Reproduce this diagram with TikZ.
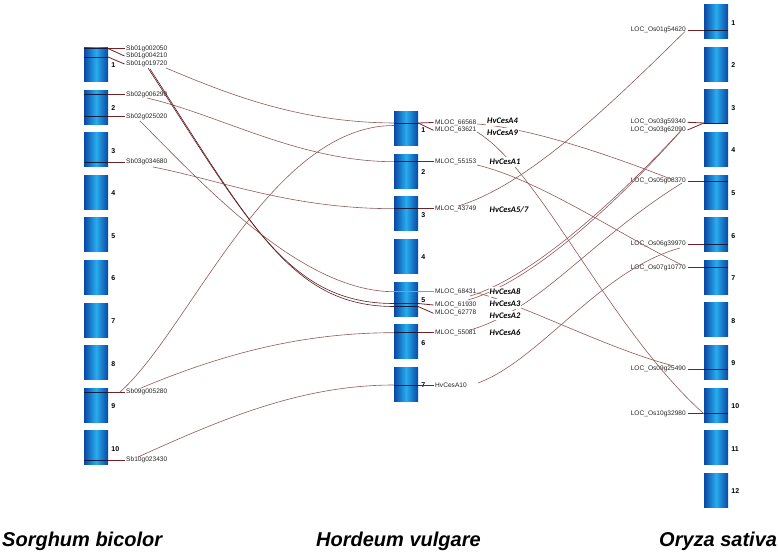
\documentclass[tikz,border=0pt]{standalone}
\usepackage{fontspec}
\setmainfont{Liberation Sans}
\newfontfamily\carlito{Carlito}
\definecolor{chromdark}{RGB}{10,72,165}
\definecolor{chromlight}{RGB}{40,172,238}
\definecolor{linkc}{RGB}{145,90,90}
\definecolor{dlinkc}{RGB}{95,30,35}
\definecolor{tickc}{RGB}{115,35,40}
\definecolor{bandc}{RGB}{20,30,60}
\begin{document}
\begin{tikzpicture}[x=1pt,y=-1pt,
  chrom/.style={minimum width=24pt,minimum height=34pt,inner sep=0pt,left color=chromdark,right color=chromdark,middle color=chromlight},
  chrnum/.style={font=\fontsize{7}{8}\selectfont\bfseries,anchor=west,inner sep=0pt,xshift=3pt,yshift=-1pt},
  gene/.style={font=\fontsize{6.6}{7}\selectfont,text=black!85,inner ysep=0pt,inner xsep=1.5pt},
  hv/.style={font=\carlito\fontsize{8.5}{9}\selectfont\bfseries\itshape,fill=white,inner xsep=1pt,inner ysep=2pt,anchor=west},
  species/.style={font=\fontsize{20}{24}\selectfont\bfseries\itshape,anchor=base west,inner sep=0pt},
  band/.style={draw=bandc,line width=0.7pt},
  tick/.style={draw=tickc,line width=0.8pt},
  link/.style={draw=linkc,line width=0.6pt},
  dlink/.style={draw=dlinkc,line width=0.6pt}]
\fill[white] (0,0) rectangle (778,553);
\useasboundingbox (0,0) rectangle (778,553);
% chromosomes
\foreach \i in {1,...,10}{\node[chrom] (S\i) at (96,{47.5+42.6*(\i-1)+17}) {}; \node[chrnum] (SN\i) at (S\i.east) {\i};}
\foreach \i in {1,...,7}{\node[chrom] (H\i) at (406,{111.7+42.6*(\i-1)+17}) {}; \node[chrnum] (HN\i) at (H\i.east) {\i};}
\foreach \i in {1,...,12}{\node[chrom] (O\i) at (716,{4.7+42.6*(\i-1)+17}) {}; \node[chrnum] (ON\i) at (O\i.east) {\i};}
% Sorghum genes
\node[gene,anchor=west] (sb1) at (124.5,48.5) {Sb01g002050};
\node[gene,anchor=west] (sb2) at (124.5,56) {Sb01g004210};
\node[gene,anchor=west] (sb3) at (124.5,64) {Sb01g019720};
\node[gene,anchor=west] (sb4) at (124.5,94.3) {Sb02g006290};
\node[gene,anchor=west] (sb5) at (124.5,116.5) {Sb02g025020};
\node[gene,anchor=west] (sb6) at (124.5,162) {Sb03g034680};
\node[gene,anchor=west] (sb7) at (124.5,392) {Sb09g005280};
\node[gene,anchor=west] (sb8) at (124.5,460) {Sb10g023430};
\coordinate (sbA) at (108,48.5);
\coordinate (sbB) at (108,57);
\draw[band] (S1.west |- sbA) -- (sbA);
\draw[band] (S1.west |- sbB) -- (sbB);
\draw[tick] (sbA) -- (sb1.west);
\draw[tick] (sbA) -- (sb2.west);
\draw[tick] (sbB) -- (sb3.west);
\foreach \c/\g in {S2/sb4,S2/sb5,S3/sb6,S9/sb7,S10/sb8}{
  \draw[band] (\c.west |- \g.west) -- (\c.east |- \g.west);
  \draw[tick] (\c.east |- \g.west) -- (\g.west);}
% Hordeum genes
\node[gene,anchor=west] (hm1) at (433.5,122.5) {MLOC\_66568};
\node[gene,anchor=west] (hm2) at (433.5,130.3) {MLOC\_63621};
\node[gene,anchor=west] (hm3) at (433.5,161.7) {MLOC\_55153};
\node[gene,anchor=west] (hm4) at (433.5,208.7) {MLOC\_43749};
\node[gene,anchor=west] (hm5) at (433.5,291.7) {MLOC\_68431};
\node[gene,anchor=west] (hm6) at (433.5,305) {MLOC\_61930};
\node[gene,anchor=west] (hm7) at (433.5,313.3) {MLOC\_62778};
\node[gene,anchor=west] (hm8) at (433.5,332.7) {MLOC\_55081};
\node[gene,anchor=west] (hm9) at (433.5,385) {HvCesA10};
\coordinate (hA) at (418,123);
\coordinate (hB) at (418,303.5);
\coordinate (hC) at (418,306.5);
\draw[band] (H1.west |- hA) -- (hA);
\draw[band] (H5.west |- hB) -- (hB);
\draw[band] (H5.west |- hC) -- (hC);
\draw[tick] (hA) -- (hm1.west);
\draw[tick] (hA) -- (hm2.west);
\draw[tick] (hB) -- (hm6.west);
\draw[tick] (hC) -- (hm7.west);
\draw[draw=linkc!70,line width=0.6pt] (H5.west |- hm5.west) -- (hm5.west);
\foreach \c/\g in {H2/hm3,H3/hm4,H6/hm8,H7/hm9}{
  \draw[band] (\c.west |- \g.west) -- (\c.east |- \g.west);
  \draw[tick] (\c.east |- \g.west) -- (\g.west);}
% Oryza genes
\node[gene,anchor=east] (ro1) at (687.5,30) {LOC\_Os01g54620};
\node[gene,anchor=east] (ro2) at (687.5,122.3) {LOC\_Os03g59340};
\node[gene,anchor=east] (ro3) at (687.5,130) {LOC\_Os03g62090};
\node[gene,anchor=east] (ro4) at (687.5,181) {LOC\_Os05g08370};
\node[gene,anchor=east] (ro5) at (687.5,244) {LOC\_Os06g39970};
\node[gene,anchor=east] (ro6) at (687.5,267.7) {LOC\_Os07g10770};
\node[gene,anchor=east] (ro7) at (687.5,369) {LOC\_Os09g25490};
\node[gene,anchor=east] (ro8) at (687.5,413.7) {LOC\_Os10g32980};
\coordinate (oA) at (704,123);
\draw[band] (oA) -- (O3.east |- oA);
\draw[tick] (ro2.east) -- (oA);
\draw[tick] (ro3.east) -- (oA);
\foreach \c/\g in {O1/ro1,O5/ro4,O6/ro5,O7/ro6,O9/ro7,O10/ro8}{
  \draw[band] (\c.west |- \g.east) -- (\c.east |- \g.east);
  \draw[tick] (\g.east) -- (\c.west |- \g.east);}
% link end points
\coordinate (l1s) at (166,68);
\coordinate (l2s) at (120,392);
\coordinate (l3s) at (141,388);
\coordinate (l4s) at (138,457);
\coordinate (l5s) at (147,98);
\coordinate (l6s) at (153,167);
\coordinate (l7s) at (140,121);
\coordinate (l8s) at (148,68);
\coordinate (l9s) at (150,69);
\coordinate (h1b) at (394,125.5);
\coordinate (h5b) at (394,306.5);
% Sorghum -> Hordeum links
\draw[link] (l1s) .. controls (230,95) and (300,122.5) .. (H1.west |- hA);
\draw[link] (l2s) .. controls (190,330) and (270,125.5) .. (h1b);
\draw[link] (l3s) .. controls (220,355) and (300,332.7) .. (H6.west |- hm8.west);
\draw[link] (l4s) .. controls (220,420) and (300,385) .. (H7.west |- hm9.west);
\draw[link] (l5s) .. controls (220,115) and (300,161.7) .. (H2.west |- hm3.west);
\draw[link] (l6s) .. controls (220,180) and (290,208.7) .. (H3.west |- hm4.west);
\draw[link] (l7s) .. controls (200,181) and (300,291.7) .. (H5.west |- hm5.west);
\draw[dlink] (l8s) .. controls (250,225) and (290,303.5) .. (H5.west |- hB);
\draw[dlink] (l9s) .. controls (252,227) and (292,306.5) .. (h5b);
% Hordeum -> Oryza links
\coordinate (m1s) at (458,206);
\coordinate (m2s) at (477,165);
\coordinate (m3s) at (477,132);
\coordinate (m4s) at (477,124);
\coordinate (m5s) at (478,383);
\coordinate (m6s) at (468,300);
\coordinate (m7s) at (470,296);
\coordinate (m8s) at (470,330);
\coordinate (m9s) at (477,293);
\coordinate (r1e) at (685,31.5);
\coordinate (r2e) at (680,132);
\coordinate (r3e) at (682,129.5);
\coordinate (r4e) at (672,179.5);
\coordinate (r4f) at (682,183);
\coordinate (r5e) at (680,248);
\coordinate (r6e) at (682,265);
\coordinate (r7e) at (674,366);
\draw[link] (m1s) .. controls (530,185) and (620,95) .. (r1e);
\draw[link] (m2s) .. controls (540,180) and (620,235) .. (r6e);
\draw[link] (m3s) .. controls (540,170) and (610,330) .. (O10.west |- ro8.east);
\draw[link] (m4s) .. controls (530,128) and (610,155) .. (r4e);
\draw[link] (m5s) .. controls (540,360) and (600,270) .. (r5e);
\draw[link] (m6s) .. controls (530,282) and (610,210) .. (r2e);
\draw[link] (m7s) .. controls (530,278) and (612,205) .. (r3e);
\draw[link] (m8s) .. controls (540,310) and (590,240) .. (r4f);
\draw[link] (m9s) .. controls (520,303) and (610,350) .. (r7e);
% HvCesA labels
\node[hv] (hv4) at (486,121) {HvCesA4};
\node[hv] (hv9) at (486,133) {HvCesA9};
\node[hv] (hv1) at (488.5,162) {HvCesA1};
\node[hv] (hv57) at (488.5,209.3) {HvCesA5/7};
\node[hv] (hv8) at (488.5,292) {HvCesA8};
\node[hv] (hv3) at (488.5,304) {HvCesA3};
\node[hv] (hv2) at (488.5,315.5) {HvCesA2};
\node[hv] (hv6) at (488.5,333) {HvCesA6};
% species
\node[species] (sp1) at (2,546) {Sorghum bicolor};
\node[species] (sp2) at (316,546) {Hordeum vulgare};
\node[species] (sp3) at (659,546) {Oryza sativa};
\end{tikzpicture}
\end{document}
